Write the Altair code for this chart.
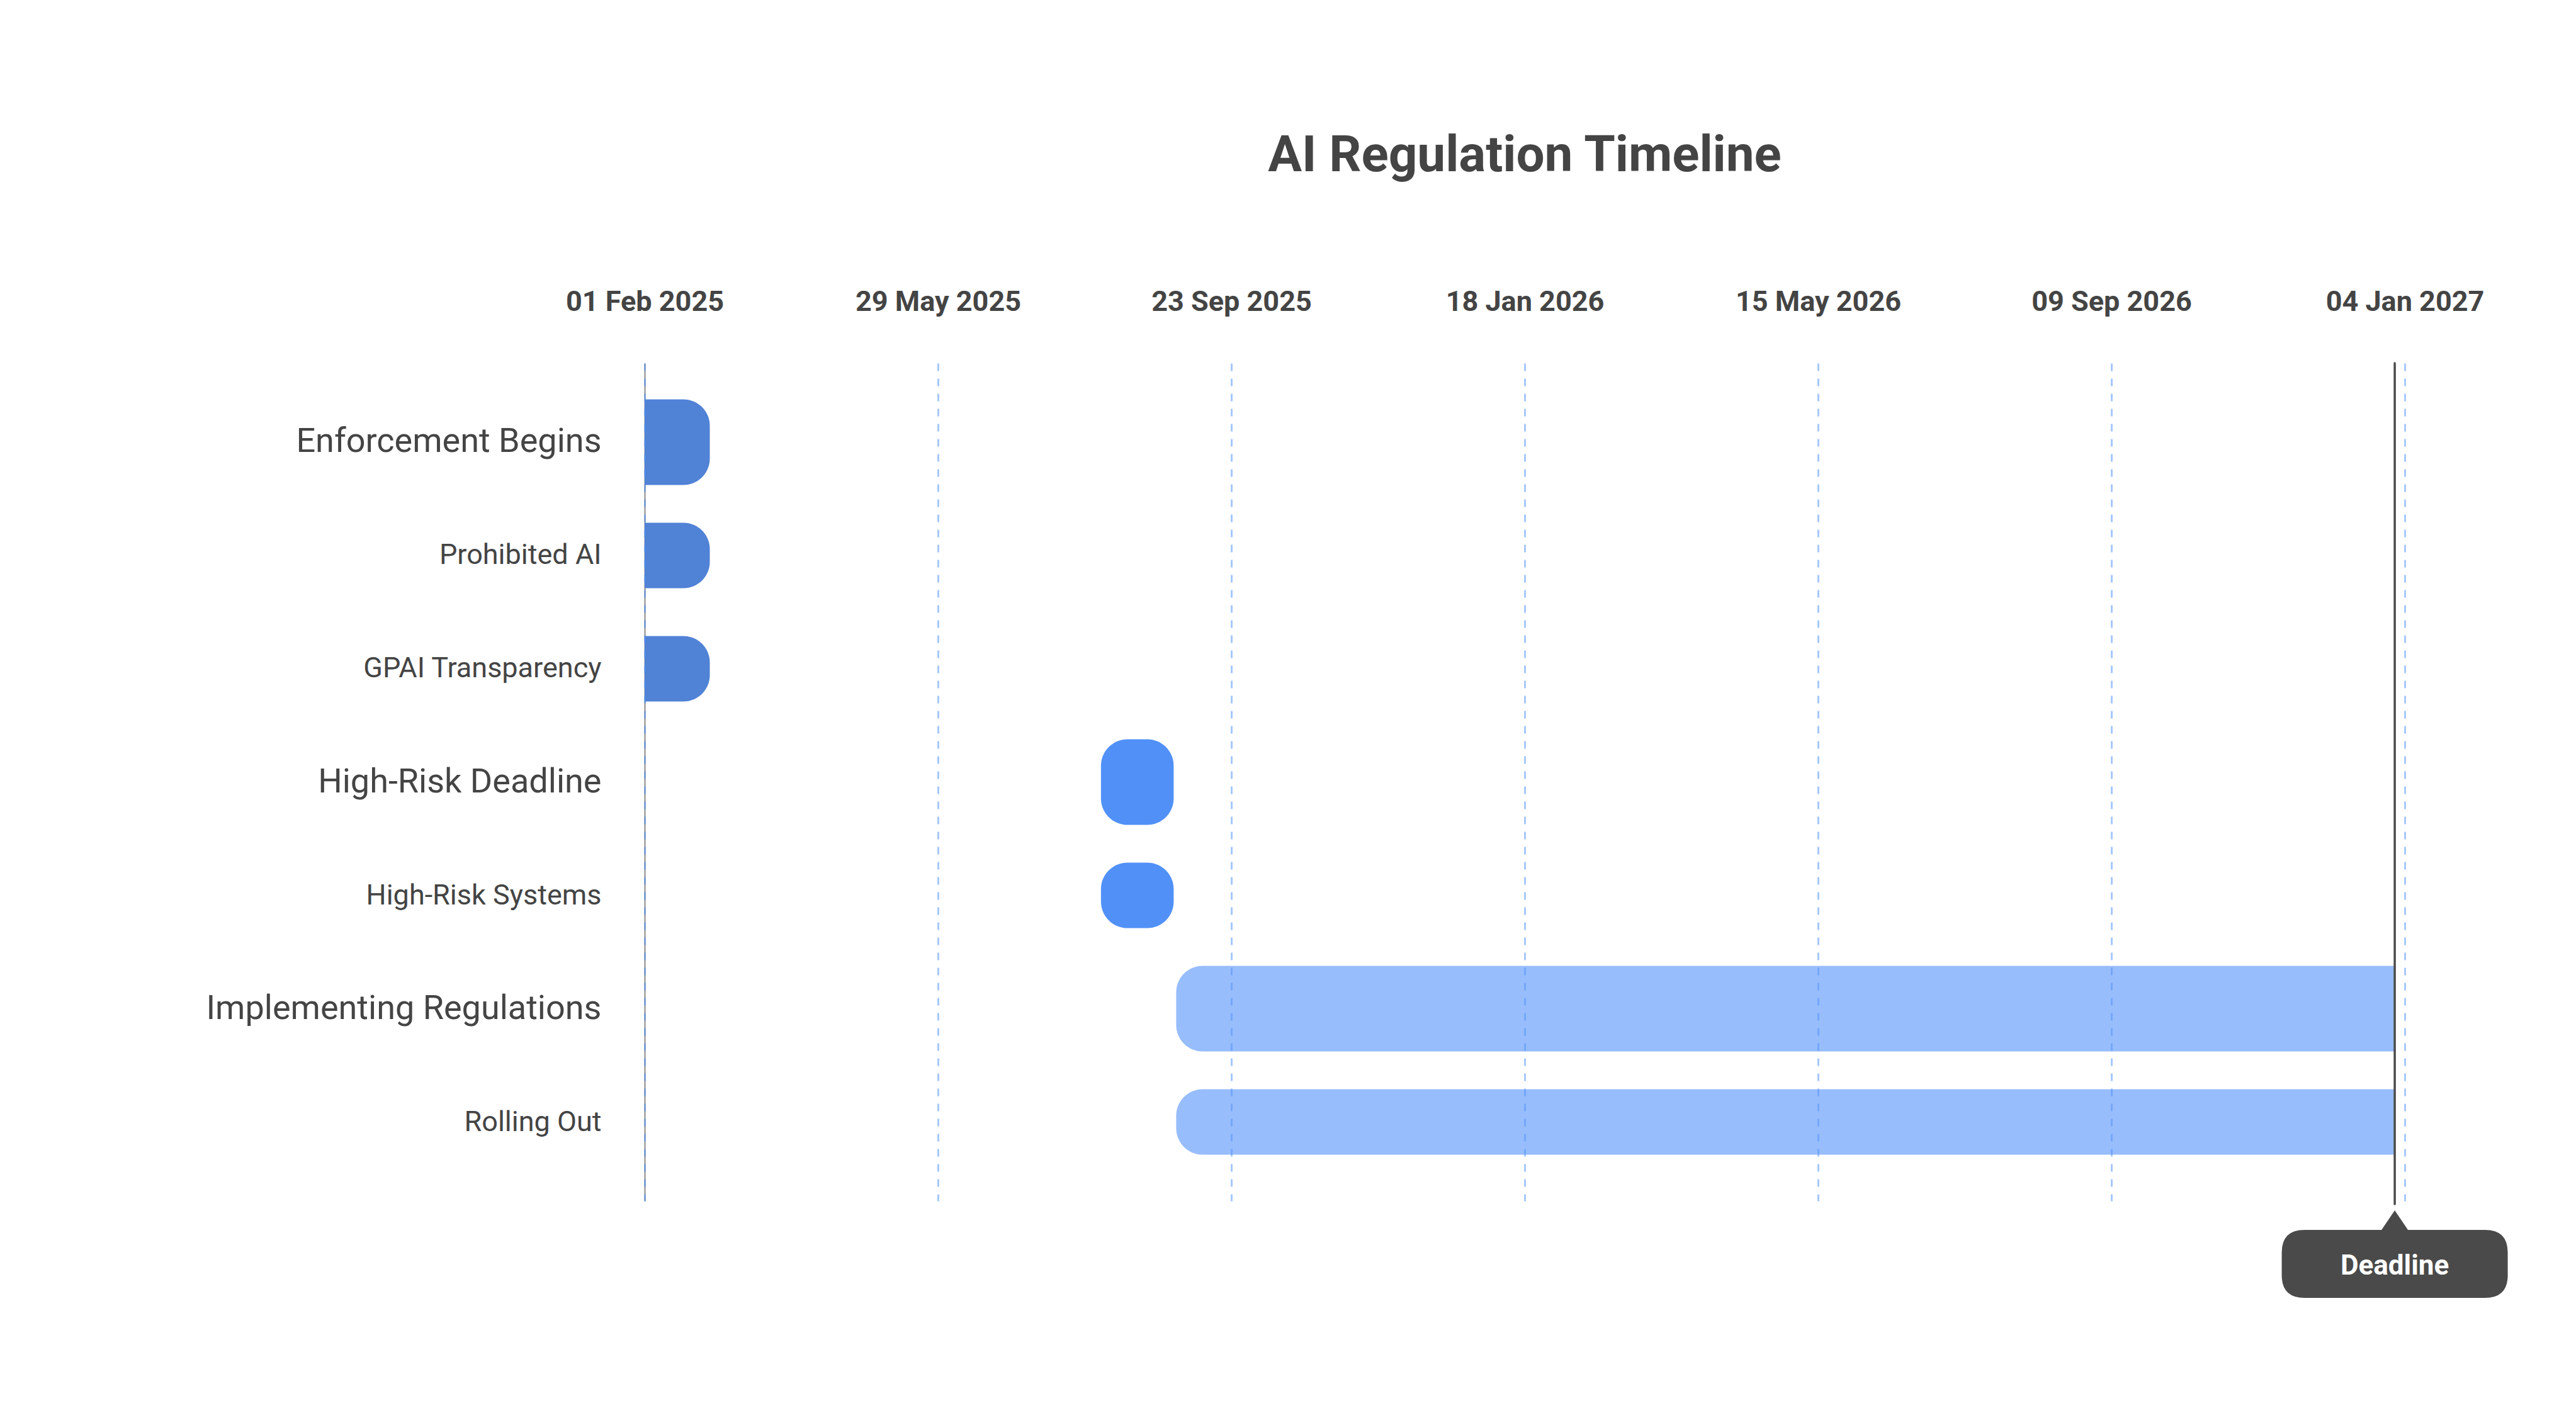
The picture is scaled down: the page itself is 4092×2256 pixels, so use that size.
import altair as alt
import pandas as pd

# ---- data ----
tasks = ["Enforcement Begins", "Prohibited AI", "GPAI Transparency",
         "High-Risk Deadline", "High-Risk Systems",
         "Implementing Regulations", "Rolling Out"]
starts = ["2025-02-01", "2025-02-01", "2025-02-01",
          "2025-08-02", "2025-08-02",
          "2025-09-01", "2025-09-01"]
ends = ["2025-02-27", "2025-02-27", "2025-02-27",
        "2025-08-31", "2025-08-31",
        "2026-12-31", "2026-12-31"]
groups = ["g1", "g1", "g1", "g2", "g2", "g3", "g3"]
kinds = ["heading", "item", "item", "heading", "item", "heading", "item"]
headings = [t for t, k in zip(tasks, kinds) if k == "heading"]

tick_dates = [(2025, 2, 1), (2025, 5, 29), (2025, 9, 23), (2026, 1, 18),
              (2026, 5, 15), (2026, 9, 9), (2027, 1, 4)]
domain_dates = [(2025, 2, 1), (2027, 1, 4)]
deadline_date = ["2026-12-31"]
deadline_label = ["Deadline"]

group_names = ["g1", "g2", "g3"]
group_colors = ["#5082d6", "#5191f7", "#98bdfc"]

df = pd.DataFrame({"task": tasks, "start": starts, "end": ends,
                   "group": groups, "kind": kinds})
dl = pd.DataFrame({"start": deadline_date, "label": deadline_label})

W, H = 2796, 1331
FONT = "Roboto"
TXT = "#444444"

def dt(t):
    return alt.DateTime(year=t[0], month=t[1], date=t[2], utc=True)

xenc = alt.X(
    "start:T",
    scale=alt.Scale(type="utc", domain=[dt(d) for d in domain_dates]),
    axis=alt.Axis(
        orient="top", title=None, values=[dt(d) for d in tick_dates],
        labelExpr="utcFormat(datum.value, '%d %b %Y')",
        labelFont=FONT, labelFontSize=45, labelFontWeight="bold",
        labelColor=TXT, labelPadding=75, labelLimit=1000,
        ticks=False, tickSize=0, domain=False,
        grid=True, gridColor="#5091f7", gridOpacity=0.5,
        gridDash=[12, 12], gridWidth=3, zindex=1,
        labelFlush=False, labelOverlap=False,
    ),
)

yenc = alt.Y(
    "task:N",
    sort=tasks,
    scale=alt.Scale(domain=tasks, paddingInner=0, paddingOuter=0.197),
    axis=alt.Axis(
        title=None, ticks=False, grid=False,
        domain=True, domainColor="#8a8a8a", domainWidth=2,
        labelFont=FONT, labelColor=TXT, labelPadding=69, labelLimit=2000,
        labelFontSize={"condition": {
            "test": " || ".join("datum.value === '%s'" % h for h in headings),
            "value": 54}, "value": 45},
    ),
)

color = alt.Color("group:N", scale=alt.Scale(domain=group_names, range=group_colors), legend=None)
size = alt.Size("kind:N", scale=alt.Scale(domain=["heading", "item"], range=[136, 104]), legend=None)

def bars(g, **radius):
    return alt.Chart(df).transform_filter(alt.datum.group == g).mark_bar(**radius).encode(
        x=xenc, x2="end:T", y=yenc, color=color, size=size
    )

b1 = bars("g1", cornerRadiusTopRight=42, cornerRadiusBottomRight=42)
b2 = bars("g2", cornerRadius=42)
b3 = bars("g3", cornerRadiusTopLeft=42, cornerRadiusBottomLeft=42)

rule = alt.Chart(dl).mark_rule(color="#4a4a4a", strokeWidth=3.5, strokeCap="round").encode(
    x=alt.X("start:T"), y=alt.value(0), y2=alt.value(H + 5)
)

bubble_path = ("M0,0 L0.117,0.173 L0.8,0.173 Q1,0.173 1,0.373 L1,0.574 "
               "Q1,0.774 0.8,0.774 L-0.8,0.774 Q-1,0.774 -1,0.574 L-1,0.373 "
               "Q-1,0.173 -0.8,0.173 L-0.117,0.173 Z")
bubble = alt.Chart(dl).mark_point(
    shape=bubble_path, size=359 * 359, filled=True, color="#4a4a4a", opacity=1, strokeWidth=0
).encode(x=alt.X("start:T"), y=alt.value(H + 15))

btext = alt.Chart(dl).mark_text(
    font=FONT, fontSize=44, fontWeight="bold", color="white", baseline="middle", align="center"
).encode(x=alt.X("start:T"), y=alt.value(H + 104), text="label:N")

chart = alt.layer(b1, b2, b3, rule, bubble, btext).properties(
    width=W, height=H,
    background="white",
    title=alt.TitleParams("AI Regulation Timeline", font=FONT, fontSize=80, fontWeight="bold",
                          color=TXT, anchor="middle", offset=168),
    autosize=alt.AutoSizeParams(type="none"),
    padding={"left": 1016, "top": 569, "right": 264, "bottom": 340},
).configure_view(strokeWidth=0, stroke="transparent")

chart.save("out.html", embed_options={"renderer": "svg", "actions": False})
